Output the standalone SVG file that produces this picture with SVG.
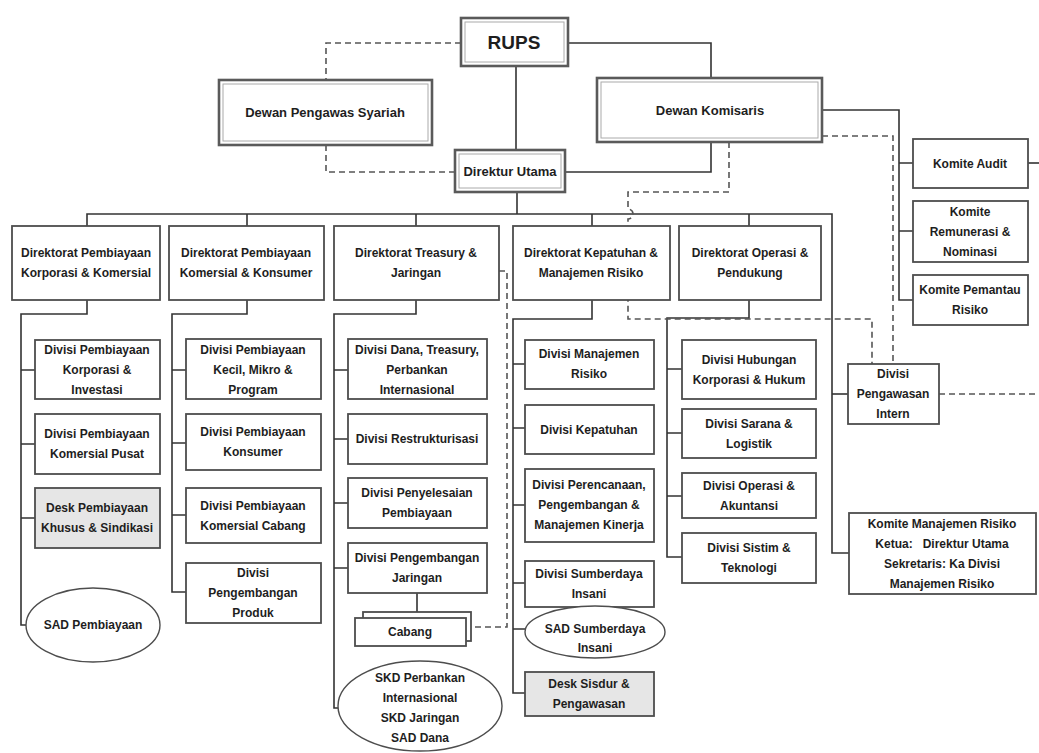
<svg xmlns="http://www.w3.org/2000/svg" width="1039" height="753" viewBox="0 0 1039 753">
<style>
.bg{fill:#ffffff}
.ln{fill:none;stroke:#333;stroke-width:1.6}
.ds{fill:none;stroke:#555;stroke-width:1.6;stroke-dasharray:6 4}
.bx{fill:#fff;stroke:#4d4d4d;stroke-width:1.8}
.gr{fill:#e6e6e6;stroke:#4d4d4d;stroke-width:1.8}
.el{fill:#fff;stroke:#4d4d4d;stroke-width:1.4}
.o{fill:#fff;stroke:#5a5a5a;stroke-width:2.6}
.i{fill:none;stroke:#aaa;stroke-width:1}
text{font-family:"Liberation Sans",Arial,sans-serif;font-weight:bold;font-size:12px;fill:#1e1e1e;text-anchor:middle}
.big{font-size:13px}
.rups{font-size:19px}
</style>
<rect class="bg" x="0" y="0" width="1039" height="753"/>
<g id="connectors">
<path class="ln" d="M568,43 H711 V78"/>
<path class="ln" d="M516,66 V150"/>
<path class="ln" d="M711,142 V172 H565"/>
<path class="ln" d="M517,192 V214"/>
<path class="ln" d="M87,226 V214 H832 V553 H849"/>
<path class="ln" d="M247,214 V226 M416,214 V226 M592,214 V226 M749,214 V226"/>
<path class="ln" d="M832,394 H848"/>
<path class="ln" d="M822,110 H899 V300 H913 M899,163 H913 M899,231 H913"/>
<path class="ln" d="M1028,163 H1039"/>
<path class="ln" d="M87,300 V314 H21 V625 H26 M21,370 H35 M21,444 H35 M21,518 H35"/>
<path class="ln" d="M247,300 V314 H172 V592 H186 M172,370 H186 M172,443 H186 M172,515 H186"/>
<path class="ln" d="M416,300 V314 H334 V708 H338 M334,370 H348 M334,439 H348 M334,503 H348 M334,568 H348 M417,593 V612"/>
<path class="ln" d="M592,300 V319 H513 V693 H525 M513,364 H525 M513,428 H525 M513,505 H525 M513,583 H525 M513,629 H525"/>
<path class="ln" d="M749,300 V318 H667 V557 H682 M667,369 H682 M667,433 H682 M667,496 H682"/>
<path class="ds" d="M461,43 H326 V80"/>
<path class="ds" d="M326,145 V172 H455"/>
<path class="ds" d="M822,136 H893 V364"/>
<path class="ds" d="M729,142 V192 H628 V209 A5,5 0 0 1 628,219 V319 H872 V364"/>
<path class="ds" d="M499,271 H507 V627 H471"/>
<path class="ds" d="M939,394 H1039"/>
</g>
<g id="rups"><rect class="o" x="461" y="18" width="107" height="48"/><rect class="i" x="465" y="22" width="99" height="40"/><text class="rups" x="514" y="49">RUPS</text></g>
<g id="dewan-pengawas-syariah"><rect class="o" x="219" y="80" width="213" height="65"/><rect class="i" x="223" y="84" width="205" height="57"/><text class="big" x="325" y="117">Dewan Pengawas Syariah</text></g>
<g id="dewan-komisaris"><rect class="o" x="597" y="78" width="225" height="64"/><rect class="i" x="601" y="82" width="217" height="56"/><text class="big" x="710" y="115">Dewan Komisaris</text></g>
<g id="direktur-utama"><rect class="o" x="455" y="150" width="110" height="42"/><rect class="i" x="459" y="154" width="102" height="34"/><text class="big" x="510" y="176">Direktur Utama</text></g>

<g id="dir-korporasi"><rect class="bx" x="12" y="226" width="148" height="74"/><text x="86" y="257">Direktorat Pembiayaan</text><text x="86" y="277">Korporasi &amp; Komersial</text></g>
<g id="dir-konsumer"><rect class="bx" x="169" y="226" width="155" height="74"/><text x="246" y="257">Direktorat Pembiayaan</text><text x="246" y="277">Komersial &amp; Konsumer</text></g>
<g id="dir-treasury"><rect class="bx" x="334" y="226" width="165" height="74"/><text x="416" y="257">Direktorat Treasury &amp;</text><text x="416" y="277">Jaringan</text></g>
<g id="dir-kepatuhan"><rect class="bx" x="513" y="226" width="157" height="74"/><text x="591" y="257">Direktorat Kepatuhan &amp;</text><text x="591" y="277">Manajemen Risiko</text></g>
<g id="dir-operasi"><rect class="bx" x="679" y="226" width="142" height="74"/><text x="750" y="257">Direktorat Operasi &amp;</text><text x="750" y="277">Pendukung</text></g>

<g id="komite-audit"><rect class="bx" x="913" y="139" width="115" height="49"/><text x="970" y="168">Komite Audit</text></g>
<g id="komite-remunerasi"><rect class="bx" x="913" y="201" width="115" height="61"/><text x="970" y="216">Komite</text><text x="970" y="236">Remunerasi &amp;</text><text x="970" y="256">Nominasi</text></g>
<g id="komite-pemantau"><rect class="bx" x="913" y="275" width="115" height="50"/><text x="970" y="294">Komite Pemantau</text><text x="970" y="314">Risiko</text></g>

<g id="div-korporasi-investasi"><rect class="bx" x="35" y="340" width="125" height="59"/><text x="97" y="354">Divisi Pembiayaan</text><text x="97" y="374">Korporasi &amp;</text><text x="97" y="394">Investasi</text></g>
<g id="div-komersial-pusat"><rect class="bx" x="35" y="414" width="125" height="60"/><text x="97" y="438">Divisi Pembiayaan</text><text x="97" y="458">Komersial Pusat</text></g>
<g id="desk-khusus"><rect class="gr" x="35" y="488" width="125" height="60"/><text x="97" y="512">Desk Pembiayaan</text><text x="97" y="532">Khusus &amp; Sindikasi</text></g>
<g id="sad-pembiayaan"><ellipse class="el" cx="93" cy="625" rx="67" ry="37"/><text x="93" y="629">SAD Pembiayaan</text></g>

<g id="div-kecil-mikro"><rect class="bx" x="186" y="339" width="135" height="60"/><text x="253" y="354">Divisi Pembiayaan</text><text x="253" y="374">Kecil, Mikro &amp;</text><text x="253" y="394">Program</text></g>
<g id="div-konsumer"><rect class="bx" x="186" y="414" width="135" height="56"/><text x="253" y="436">Divisi Pembiayaan</text><text x="253" y="456">Konsumer</text></g>
<g id="div-komersial-cabang"><rect class="bx" x="186" y="488" width="135" height="55"/><text x="253" y="510">Divisi Pembiayaan</text><text x="253" y="530">Komersial Cabang</text></g>
<g id="div-pengembangan-produk"><rect class="bx" x="186" y="563" width="135" height="60"/><text x="253" y="577">Divisi</text><text x="253" y="597">Pengembangan</text><text x="253" y="617">Produk</text></g>

<g id="div-dana-treasury"><rect class="bx" x="348" y="339" width="139" height="60"/><text x="417" y="354">Divisi Dana, Treasury,</text><text x="417" y="374">Perbankan</text><text x="417" y="394">Internasional</text></g>
<g id="div-restrukturisasi"><rect class="bx" x="348" y="414" width="139" height="50"/><text x="417" y="443">Divisi Restrukturisasi</text></g>
<g id="div-penyelesaian"><rect class="bx" x="348" y="478" width="139" height="50"/><text x="417" y="497">Divisi Penyelesaian</text><text x="417" y="517">Pembiayaan</text></g>
<g id="div-pengembangan-jaringan"><rect class="bx" x="348" y="543" width="139" height="50"/><text x="417" y="562">Divisi Pengembangan</text><text x="417" y="582">Jaringan</text></g>
<g id="cabang"><rect class="bx" x="363" y="612" width="108" height="29"/><rect class="bx" x="355" y="618" width="111" height="28"/><text x="410" y="636">Cabang</text></g>
<g id="skd"><ellipse class="el" cx="420" cy="706" rx="82" ry="45"/><text x="420" y="682">SKD Perbankan</text><text x="420" y="702">Internasional</text><text x="420" y="722">SKD Jaringan</text><text x="420" y="742">SAD Dana</text></g>

<g id="div-manajemen-risiko"><rect class="bx" x="525" y="340" width="129" height="49"/><text x="589" y="358">Divisi Manajemen</text><text x="589" y="378">Risiko</text></g>
<g id="div-kepatuhan"><rect class="bx" x="525" y="405" width="129" height="49"/><text x="589" y="434">Divisi Kepatuhan</text></g>
<g id="div-perencanaan"><rect class="bx" x="525" y="469" width="129" height="73"/><text x="589" y="489">Divisi Perencanaan,</text><text x="589" y="509">Pengembangan &amp;</text><text x="589" y="529">Manajemen Kinerja</text></g>
<g id="div-sumberdaya"><rect class="bx" x="525" y="561" width="129" height="46"/><text x="589" y="578">Divisi Sumberdaya</text><text x="589" y="598">Insani</text></g>
<g id="sad-sumberdaya"><ellipse class="el" cx="595" cy="632" rx="70" ry="26"/><text x="595" y="633">SAD Sumberdaya</text><text x="595" y="652">Insani</text></g>
<g id="desk-sisdur"><rect class="gr" x="525" y="672" width="129" height="44"/><text x="589" y="688">Desk Sisdur &amp;</text><text x="589" y="708">Pengawasan</text></g>

<g id="div-hubungan"><rect class="bx" x="682" y="340" width="134" height="59"/><text x="749" y="364">Divisi Hubungan</text><text x="749" y="384">Korporasi &amp; Hukum</text></g>
<g id="div-sarana"><rect class="bx" x="682" y="409" width="134" height="49"/><text x="749" y="428">Divisi Sarana &amp;</text><text x="749" y="448">Logistik</text></g>
<g id="div-operasi"><rect class="bx" x="682" y="473" width="134" height="45"/><text x="749" y="490">Divisi Operasi &amp;</text><text x="749" y="510">Akuntansi</text></g>
<g id="div-sistim"><rect class="bx" x="682" y="533" width="134" height="50"/><text x="749" y="552">Divisi Sistim &amp;</text><text x="749" y="572">Teknologi</text></g>

<g id="div-pengawasan-intern"><rect class="bx" x="848" y="364" width="91" height="60"/><text x="893" y="378">Divisi</text><text x="893" y="398">Pengawasan</text><text x="893" y="418">Intern</text></g>
<g id="komite-manajemen-risiko"><rect class="bx" x="849" y="513" width="187" height="81"/><text x="942" y="528">Komite Manajemen Risiko</text><text x="942" y="548" style="white-space:pre">Ketua:   Direktur Utama</text><text x="942" y="568">Sekretaris: Ka Divisi</text><text x="942" y="588">Manajemen Risiko</text></g>
</svg>
